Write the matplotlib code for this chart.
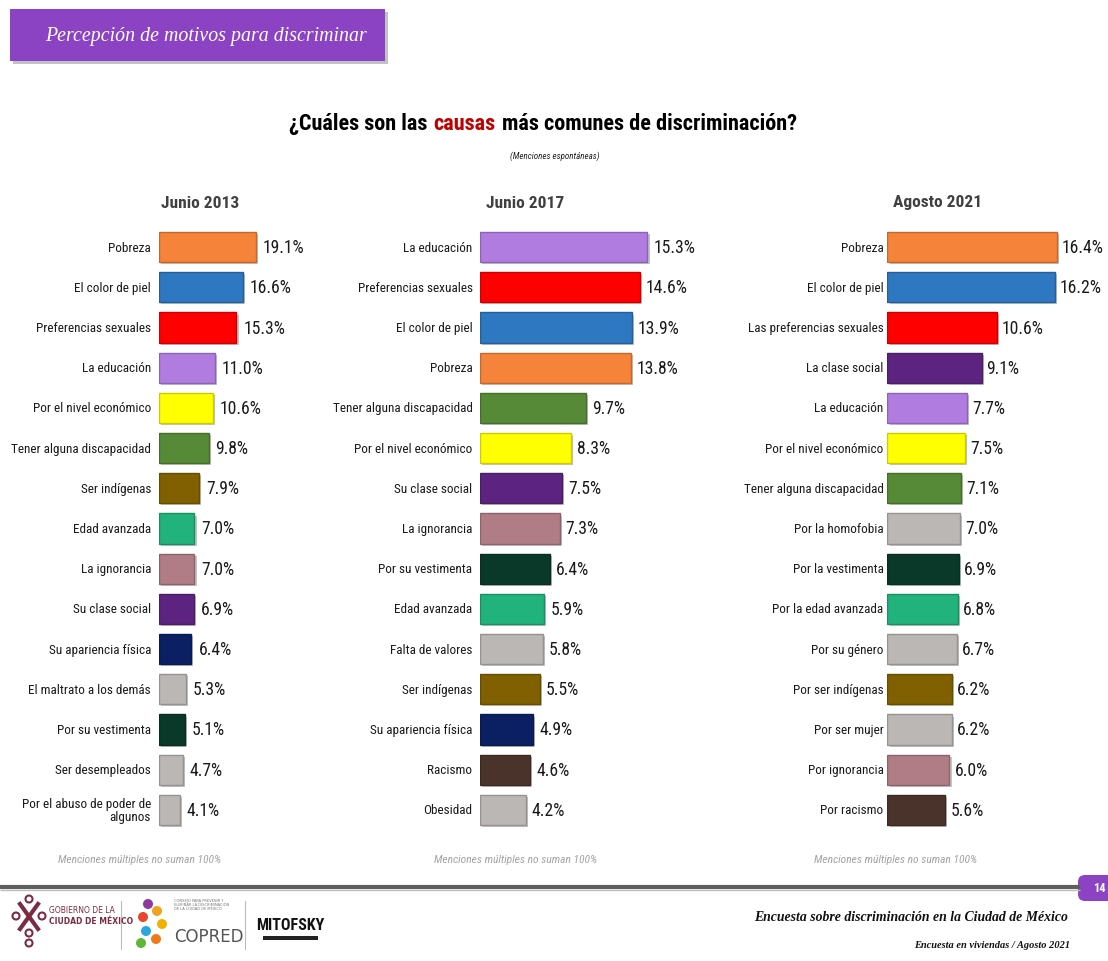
import matplotlib
matplotlib.use('Agg')
import matplotlib.pyplot as plt
from matplotlib import font_manager as fm
from matplotlib.patches import Rectangle, FancyBboxPatch, Ellipse
import matplotlib.patheffects as pe
import matplotlib.colors as mcolors

# ---------------- data ----------------
cats_2013 = ["Pobreza", "El color de piel", "Preferencias sexuales", "La educación",
             "Por el nivel económico", "Tener alguna discapacidad", "Ser indígenas",
             "Edad avanzada", "La ignorancia", "Su clase social", "Su apariencia física",
             "El maltrato a los demás", "Por su vestimenta", "Ser desempleados",
             "Por el abuso de poder de\nalgunos"]
vals_2013 = [19.1, 16.6, 15.3, 11.0, 10.6, 9.8, 7.9, 7.0, 7.0, 6.9, 6.4, 5.3, 5.1, 4.7, 4.1]
keys_2013 = ["orange", "blue", "red", "lavender", "yellow", "green", "ochre", "teal",
             "rose", "purple", "navy", "gray", "darkgreen", "gray", "gray"]

cats_2017 = ["La educación", "Preferencias sexuales", "El color de piel", "Pobreza",
             "Tener alguna discapacidad", "Por el nivel económico", "Su clase social",
             "La ignorancia", "Por su vestimenta", "Edad avanzada", "Falta de valores",
             "Ser indígenas", "Su apariencia física", "Racismo", "Obesidad"]
vals_2017 = [15.3, 14.6, 13.9, 13.8, 9.7, 8.3, 7.5, 7.3, 6.4, 5.9, 5.8, 5.5, 4.9, 4.6, 4.2]
keys_2017 = ["lavender", "red", "blue", "orange", "green", "yellow", "purple", "rose",
             "darkgreen", "teal", "gray", "ochre", "navy", "brown", "gray"]

cats_2021 = ["Pobreza", "El color de piel", "Las preferencias sexuales", "La clase social",
             "La educación", "Por el nivel económico", "Tener alguna discapacidad",
             "Por la homofobia", "Por la vestimenta", "Por la edad avanzada", "Por su género",
             "Por ser indígenas", "Por ser mujer", "Por ignorancia", "Por racismo"]
vals_2021 = [16.4, 16.2, 10.6, 9.1, 7.7, 7.5, 7.1, 7.0, 6.9, 6.8, 6.7, 6.2, 6.2, 6.0, 5.6]
keys_2021 = ["orange", "blue", "red", "purple", "lavender", "yellow", "green", "gray",
             "darkgreen", "teal", "gray", "ochre", "gray", "rose", "brown"]

panel_titles = ["Junio 2013", "Junio 2017", "Agosto 2021"]

palette = {
    "orange": "#F5833A", "blue": "#2E77C1", "red": "#FF0000", "lavender": "#B07CE0",
    "yellow": "#FFFF00", "green": "#568A37", "ochre": "#806000", "teal": "#21B37B",
    "rose": "#B07C86", "purple": "#5C2480", "navy": "#0B2063", "gray": "#BAB7B4",
    "darkgreen": "#0A392A", "brown": "#4A332B",
}

# ---------------- fonts ----------------
names = {f.name for f in fm.fontManager.ttflist}
NARROW = None
for n in ["Liberation Sans Narrow", "Arial Narrow", "Roboto Condensed", "Open Sans Condensed"]:
    if n in names:
        NARROW = n
        break
K = 1.0
if NARROW is None:
    NARROW = "Liberation Sans" if "Liberation Sans" in names else "DejaVu Sans"
    K = 0.82
SERIF = "Liberation Serif" if "Liberation Serif" in names else "DejaVu Serif"

W, H = 1108, 962
fig = plt.figure(figsize=(W / 100, H / 100), dpi=100)
fig.patch.set_facecolor("white")

# overlay axes in pixel coordinates
ax0 = fig.add_axes([0, 0, 1, 1])
ax0.set_xlim(0, W)
ax0.set_ylim(H, 0)
ax0.axis("off")


def darken(c, f=0.8):
    r, g, b = mcolors.to_rgb(c)
    return (r * f, g * f, b * f)


# ---------------- header ----------------
ax0.add_patch(Rectangle((13, 13), 375, 52, facecolor="#9A9A9A", edgecolor="none", alpha=0.6))
ax0.add_patch(Rectangle((10, 10), 375, 52, facecolor="#8B42C3", edgecolor="none"))
ax0.text(206, 37, "Percepción de motivos para discriminar", ha="center", va="center",
         color="white", fontsize=14.3, family=SERIF, style="italic")

# ---------------- title ----------------
TY = 130
tsize = 16 * K
parts = [("¿Cuáles son las", "black"), ("causas", "#C00000"), ("más comunes de discriminación?", "black")]
texts = []
for s, c in parts:
    texts.append(ax0.text(0, TY, s, ha="left", va="baseline", color=c, fontsize=tsize,
                          family=NARROW, fontweight="bold"))
fig.canvas.draw()
r = fig.canvas.get_renderer()
gap = 0.3 * tsize * 100 / 72
widths = [t.get_window_extent(r).width for t in texts]
total = sum(widths) + gap * (len(widths) - 1)
x = 543 - total / 2
for t, w in zip(texts, widths):
    t.set_x(x)
    x += w + gap

ax0.text(555, 156, "(Menciones espontáneas)", ha="center", va="center", fontsize=6.5 * K,
         family=NARROW, style="italic", color="#222222")

# ---------------- panels ----------------
TOP_PX, BOT_PX = 228, 831


def panel(left, width, scale, title, title_x, cats, vals, keys, lab_gap, val_gap, note_x):
    ax = fig.add_axes([left / W, 1 - BOT_PX / H, width / W, (BOT_PX - TOP_PX) / H])
    ax.set_xlim(0, width / scale)
    ax.set_ylim(len(cats) - 0.5, -0.5)
    ax.axis("off")
    ax.patch.set_alpha(0)
    cols = [palette[k] for k in keys]
    ys = list(range(len(cats)))
    bars = ax.barh(ys, vals, height=0.75, color=cols, edgecolor=[darken(c) for c in cols],
                   linewidth=1.0)
    for b in bars:
        b.set_path_effects([pe.SimplePatchShadow(offset=(1.5, -1.5), shadow_rgbFace="#7a7a7a",
                                                 alpha=0.45), pe.Normal()])
    for i, (c, v) in enumerate(zip(cats, vals)):
        ax.annotate(c, xy=(0, i), xytext=(-lab_gap, 0), textcoords="offset pixels",
                    ha="right", va="center", fontsize=9.5 * K, family=NARROW,
                    color="#1a1a1a", linespacing=0.95)
        ax.annotate(f"{v:.1f}%", xy=(v, i), xytext=(val_gap, 0), textcoords="offset pixels",
                    ha="left", va="center", fontsize=12.7 * K, family=NARROW, color="#1a1a1a")
    ax0.text(title_x, 203, title, ha="center", va="center", fontsize=12.5 * K, family=NARROW,
             fontweight="bold", color="#404040")
    ax0.text(note_x, 860, "Menciones múltiples no suman 100%", ha="center", va="center",
             fontsize=8.25 * K, family=NARROW, style="italic", color="#A3A3A3")


panel(159, 150, 5.06, panel_titles[0], 200, cats_2013, vals_2013, keys_2013, 8, 7, 140)
panel(479.5, 200, 10.98, panel_titles[1], 525, cats_2017, vals_2017, keys_2017, 7, 6, 516)
panel(887.5, 210, 10.33, panel_titles[2], 938, cats_2021, vals_2021, keys_2021, 4, 5, 896)

# ---------------- footer ----------------
ax0.plot([0, 1080], [888, 888], color="#5E5E5E", lw=3, solid_capstyle="butt")
ax0.plot([0, 1080], [890.5, 890.5], color="#BDBDBD", lw=1, solid_capstyle="butt")
ax0.add_patch(FancyBboxPatch((1078, 876), 40, 26, boxstyle="round,pad=0,rounding_size=7",
                             facecolor="#8B42C3", edgecolor="none"))
ax0.text(1099, 889, "14", ha="center", va="center", color="white", fontsize=9,
         fontweight="bold", family=NARROW)

ax0.text(1068, 918, "Encuesta sobre discriminación en la Ciudad de México", ha="right",
         va="center", fontsize=9.9, family=SERIF, style="italic", fontweight="bold",
         color="#111111")
ax0.text(1070, 946, "Encuesta en viviendas / Agosto 2021", ha="right", va="center",
         fontsize=7.5, family=SERIF, style="italic", fontweight="bold", color="#111111")

# logo approximations
for (cx, cy) in [(29, 900), (16, 917), (42, 917), (29, 934), (29, 944)]:
    ax0.add_patch(Ellipse((cx, cy), 7, 7, facecolor="none", edgecolor="#7B2C42", lw=1.5))
ax0.plot([20, 38], [905, 930], color="#7B2C42", lw=3)
ax0.plot([38, 20], [905, 930], color="#7B2C42", lw=3)
ax0.text(49, 911, "GOBIERNO DE LA", ha="left", va="center", fontsize=5.5, color="#7B2C42",
         family="DejaVu Sans")
ax0.text(49, 922, "CIUDAD DE MÉXICO", ha="left", va="center", fontsize=5.5, color="#7B2C42",
         family="DejaVu Sans", fontweight="bold")
ax0.plot([121, 121], [902, 950], color="#BBBBBB", lw=0.8)
for (cx, cy, c) in [(148, 905, "#8E3A9E"), (157, 912, "#F0A21E"), (143, 918, "#E8452C"),
                    (162, 925, "#F4B000"), (146, 932, "#2BA6DE"), (156, 940, "#F07A1B"),
                    (141, 944, "#5CB73A")]:
    ax0.add_patch(Ellipse((cx, cy), 10, 10, facecolor=c, edgecolor="none"))
ax0.text(174, 905, "CONSEJO PARA PREVENIR Y\nELIMINAR LA DISCRIMINACIÓN\nDE LA CIUDAD DE MÉXICO",
         ha="left", va="center", fontsize=2.6, color="#777777", family="DejaVu Sans",
         linespacing=1.1)
ax0.text(174, 937, "COPRED", ha="left", va="center", fontsize=12, color="#555555",
         family="DejaVu Sans")
ax0.plot([245, 245], [902, 950], color="#BBBBBB", lw=0.8)
ax0.text(290, 926, "MITOFSKY", ha="center", va="center", fontsize=11.5, color="#111111",
         family=NARROW, fontweight="bold")
ax0.add_patch(Rectangle((263, 937), 55, 4, facecolor="#222222", edgecolor="none"))

fig.savefig("out.png", dpi=100, facecolor="white")
